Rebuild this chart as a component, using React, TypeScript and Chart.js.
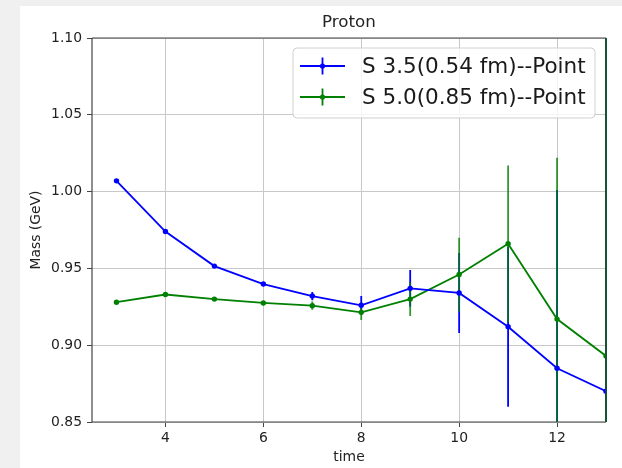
import React, { useEffect, useRef } from "react";
import { Chart, registerables } from "chart.js";

Chart.register(...registerables);

const times = [3, 4, 5, 6, 7, 8, 9, 10, 11, 12, 13];
const massS35 = [1.007, 0.974, 0.9515, 0.9398, 0.932, 0.926, 0.937, 0.934, 0.912, 0.885, 0.87];
const errS35 = [0.0008, 0.001, 0.001, 0.0012, 0.0027, 0.006, 0.012, 0.026, 0.052, 0.116, 0.3];
const massS50 = [0.928, 0.933, 0.93, 0.9275, 0.9257, 0.9214, 0.93, 0.946, 0.966, 0.917, 0.893];
const errS50 = [0.0008, 0.001, 0.001, 0.0012, 0.0027, 0.005, 0.011, 0.024, 0.051, 0.105, 0.3];
const xTicks = [4, 6, 8, 10, 12];
const labelS35 = "S 3.5(0.54 fm)--Point";
const labelS50 = "S 5.0(0.85 fm)--Point";
const chartTitle = "Proton";
const xTitle = "time";
const yTitle = "Mass (GeV)";

const FONT = "'DejaVu Sans', sans-serif";
const BLUE = "#0000ff";
const GREEN = "#008000";

const bgPlugin = {
  id: "bg",
  beforeDraw(chart: any) {
    const ctx = chart.ctx;
    ctx.save();
    ctx.fillStyle = "#f0f0f0";
    ctx.fillRect(0, 0, chart.width, chart.height);
    ctx.fillStyle = "#ffffff";
    ctx.fillRect(20, 6, chart.width - 20, chart.height - 6);
    ctx.restore();
  },
};

const errPlugin = {
  id: "errbars",
  beforeDatasetsDraw(chart: any) {
    const ctx = chart.ctx;
    const a = chart.chartArea;
    const xs = chart.scales.x;
    const ys = chart.scales.y;
    ctx.save();
    ctx.beginPath();
    ctx.rect(a.left, a.top, a.right - a.left + 1.5, a.bottom - a.top);
    ctx.clip();
    const sets = [
      { m: massS35, e: errS35, c: BLUE },
      { m: massS50, e: errS50, c: "rgba(0,128,0,0.8)" },
    ];
    sets.forEach((s) => {
      ctx.strokeStyle = s.c;
      ctx.lineWidth = 1.8;
      times.forEach((t, i) => {
        const px = xs.getPixelForValue(t);
        ctx.beginPath();
        ctx.moveTo(px, ys.getPixelForValue(s.m[i] - s.e[i]));
        ctx.lineTo(px, ys.getPixelForValue(s.m[i] + s.e[i]));
        ctx.stroke();
      });
    });
    ctx.restore();
  },
};

const decoPlugin = {
  id: "deco",
  afterDraw(chart: any) {
    const ctx = chart.ctx;
    const a = chart.chartArea;
    ctx.save();
    // frame
    ctx.strokeStyle = "#444";
    ctx.lineWidth = 1.2;
    ctx.beginPath();
    ctx.moveTo(a.left, a.top);
    ctx.lineTo(a.left, a.bottom);
    ctx.lineTo(a.right, a.bottom);
    ctx.moveTo(a.left, a.top);
    ctx.lineTo(a.right, a.top);
    ctx.stroke();
    ctx.strokeStyle = "#1f4a2a";
    ctx.beginPath();
    ctx.moveTo(a.right, a.top);
    ctx.lineTo(a.right, a.bottom);
    ctx.stroke();
    // title
    ctx.fillStyle = "#222";
    ctx.textAlign = "center";
    ctx.textBaseline = "middle";
    ctx.font = `16.7px ${FONT}`;
    ctx.fillText(chartTitle, (a.left + a.right) / 2, 23);
    // axis titles
    ctx.font = `13.9px ${FONT}`;
    ctx.fillText(xTitle, (a.left + a.right) / 2, 457);
    ctx.save();
    ctx.translate(36, (a.top + a.bottom) / 2);
    ctx.rotate(-Math.PI / 2);
    ctx.fillText(yTitle, 0, 0);
    ctx.restore();
    // legend
    const bx = 293, by = 48, bw = 302, bh = 70, r = 4;
    ctx.beginPath();
    ctx.moveTo(bx + r, by);
    ctx.lineTo(bx + bw - r, by);
    ctx.arcTo(bx + bw, by, bx + bw, by + r, r);
    ctx.lineTo(bx + bw, by + bh - r);
    ctx.arcTo(bx + bw, by + bh, bx + bw - r, by + bh, r);
    ctx.lineTo(bx + r, by + bh);
    ctx.arcTo(bx, by + bh, bx, by + bh - r, r);
    ctx.lineTo(bx, by + r);
    ctx.arcTo(bx, by, bx + r, by, r);
    ctx.closePath();
    ctx.fillStyle = "rgba(255,255,255,0.8)";
    ctx.fill();
    ctx.strokeStyle = "#d0d0d0";
    ctx.lineWidth = 1;
    ctx.stroke();
    const rows = [
      { label: labelS35, c: BLUE, y: 66 },
      { label: labelS50, c: GREEN, y: 97 },
    ];
    rows.forEach((row) => {
      ctx.strokeStyle = row.c;
      ctx.fillStyle = row.c;
      ctx.lineWidth = 1.8;
      ctx.beginPath();
      ctx.moveTo(300, row.y);
      ctx.lineTo(345, row.y);
      ctx.moveTo(322.5, row.y - 8.5);
      ctx.lineTo(322.5, row.y + 8.5);
      ctx.stroke();
      ctx.beginPath();
      ctx.arc(322.5, row.y, 2.6, 0, Math.PI * 2);
      ctx.fill();
      ctx.fillStyle = "#1a1a1a";
      ctx.textAlign = "left";
      ctx.textBaseline = "middle";
      ctx.font = `21.5px ${FONT}`;
      ctx.fillText(row.label, 362, row.y + 1);
    });
    ctx.restore();
  },
};

export default function App() {
  const ref = useRef<HTMLCanvasElement | null>(null);
  useEffect(() => {
    document.body.style.margin = "0";
    const canvas = ref.current;
    if (!canvas) return;
    const chart = new Chart(canvas, {
      type: "line",
      data: {
        datasets: [
          {
            label: labelS35,
            data: times.map((t, i) => ({ x: t, y: massS35[i] })),
            borderColor: BLUE,
            backgroundColor: BLUE,
            borderWidth: 1.8,
            pointRadius: 2.7,
            pointBorderWidth: 0,
            tension: 0,
          },
          {
            label: labelS50,
            data: times.map((t, i) => ({ x: t, y: massS50[i] })),
            borderColor: GREEN,
            backgroundColor: GREEN,
            borderWidth: 1.8,
            pointRadius: 2.7,
            pointBorderWidth: 0,
            tension: 0,
          },
        ],
      },
      options: {
        responsive: false,
        animation: false,
        devicePixelRatio: 1,
        layout: { padding: { left: 0, right: 16, top: 38, bottom: 0 } },
        plugins: {
          legend: { display: false },
          title: { display: false },
          tooltip: { enabled: false },
        },
        scales: {
          x: {
            type: "linear",
            min: 2.5,
            max: 13,
            afterBuildTicks(scale: any) {
              scale.ticks = xTicks.map((v) => ({ value: v }));
            },
            afterFit(scale: any) {
              scale.height = 46;
            },
            grid: {
              color: "#c8c8c8",
              lineWidth: 1,
              drawTicks: true,
              tickLength: 5,
              tickColor: "#444",
            },
            border: { display: false },
            ticks: {
              color: "#222",
              font: { family: FONT, size: 13.9 },
              padding: 3,
              maxRotation: 0,
            },
          },
          y: {
            type: "linear",
            min: 0.85,
            max: 1.1,
            afterFit(scale: any) {
              scale.width = 92;
            },
            grid: {
              color: "#c8c8c8",
              lineWidth: 1,
              drawTicks: true,
              tickLength: 5,
              tickColor: "#444",
            },
            border: { display: false },
            ticks: {
              stepSize: 0.05,
              color: "#222",
              font: { family: FONT, size: 13.9 },
              padding: 5,
              callback: (v: any) => Number(v).toFixed(2),
            },
          },
        },
      },
      plugins: [bgPlugin, errPlugin, decoPlugin],
    } as any);
    return () => chart.destroy();
  }, []);
  return <canvas ref={ref} width={622} height={468} style={{ display: "block" }} />;
}
